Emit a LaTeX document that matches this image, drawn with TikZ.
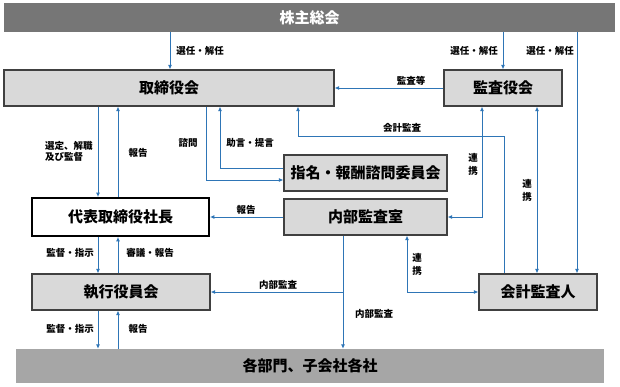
\documentclass[tikz,border=0pt]{standalone}
\usepackage{fontspec}
\setmainfont{Noto Sans CJK JP}
\usetikzlibrary{arrows.meta,calc}
\definecolor{arrowblue}{RGB}{46,117,182}
\definecolor{boxfill}{RGB}{217,217,217}
\definecolor{boxline}{RGB}{64,64,64}
\definecolor{topfill}{RGB}{118,118,118}
\definecolor{botfill}{RGB}{166,166,166}
\tikzset{
  graybox/.style={draw=boxline, line width=1.2pt, fill=boxfill, inner sep=0pt,
    font=\fontsize{15}{18}\selectfont\bfseries},
  whitebox/.style={draw=black, line width=1.8pt, fill=white, inner sep=0pt,
    font=\fontsize{15}{18}\selectfont\bfseries},
  bar/.style={inner sep=0pt, font=\fontsize{15}{18}\selectfont\bfseries},
  lab/.style={inner sep=0pt, font=\fontsize{9.5}{11}\selectfont\bfseries},
  vlab/.style={inner sep=0pt, align=center, font=\fontsize{9.5}{13}\selectfont\bfseries},
  arr/.style={draw=arrowblue, line width=0.9pt, -{Latex[length=4.5pt,width=4pt]}},
  arrb/.style={draw=arrowblue, line width=0.9pt, {Latex[length=4.5pt,width=4pt]}-{Latex[length=4.5pt,width=4pt]}},
}
\begin{document}
\begin{tikzpicture}[x=1pt,y=-1pt]
\useasboundingbox (0,0) rectangle (620,386);
% helper coordinates
\foreach \v in {98,118,170,206,220,298,343,407,482,503,504,537,577}{\coordinate (x\v) at (\v,0);}
\foreach \v in {136,168,180}{\coordinate (y\v) at (0,\v);}
% nodes
\node[bar, fill=topfill, text=white, minimum width=611pt, minimum height=29pt] (top) at (309.5,17.5) {株主総会};
\node[graybox, minimum width=330pt, minimum height=36pt] (tori) at (169,88) {取締役会};
\node[graybox, minimum width=118pt, minimum height=36pt] (kansa) at (503,88) {監査役会};
\node[graybox, minimum width=163pt, minimum height=36pt] (shimei) at (365.5,173) {指名・報酬諮問委員会};
\node[whitebox, minimum width=177pt, minimum height=38pt] (daihyo) at (120.5,217) {代表取締役社長};
\node[graybox, minimum width=163pt, minimum height=36pt] (naibu) at (365.5,217) {内部監査室};
\node[graybox, minimum width=178pt, minimum height=36pt] (shikko) at (121,292) {執行役員会};
\node[graybox, minimum width=118pt, minimum height=36pt] (kaikei) at (538,292) {会計監査人};
\node[bar, fill=botfill, minimum width=588pt, minimum height=34pt] (bottom) at (310,366) {各部門、子会社各社};
% connectors
\draw[arr] (top.south -| x170) -- (tori.north -| x170);
\draw[arr] (top.south -| x503) -- (kansa.north -| x503);
\draw[arr] (top.south -| x577) -- (kaikei.north -| x577);
\draw[arr] (kansa.west) -- (tori.east);
\draw[arr] (tori.south -| x98) -- (daihyo.north -| x98);
\draw[arr] (daihyo.north -| x118) -- (tori.south -| x118);
\draw[arr] (tori.south -| x206) |- (shimei.west |- y180);
\draw[arr] (shimei.west |- y168) -| (tori.south -| x220);
\draw[arr] (kaikei.north -| x504) |- (y136 -| x298) -- (tori.south -| x298);
\draw[arrb] (kansa.south -| x482) |- (naibu.east);
\draw[arrb] (kansa.south -| x537) -- (kaikei.north -| x537);
\draw[arr] (naibu.west) -- (daihyo.east);
\draw[arr] (daihyo.south -| x98) -- (shikko.north -| x98);
\draw[arr] (shikko.north -| x118) -- (daihyo.south -| x118);
\draw[arr] (naibu.south -| x343) -- (bottom.north -| x343);
\draw[arr] (shikko.east -| x343) -- (shikko.east);
\draw[arrb] (naibu.south -| x407) |- (kaikei.west);
\draw[arr] (shikko.south -| x98) -- (bottom.north -| x98);
\draw[arr] (bottom.north -| x118) -- (shikko.south -| x118);
% labels
\node[lab] (l1) at (200,51) {選任・解任};
\node[lab] (l2) at (474,51) {選任・解任};
\node[lab] (l3) at (550,51) {選任・解任};
\node[lab] (l4) at (411,81) {監査等};
\node[lab, anchor=west, align=left, font=\fontsize{9.5}{11.5}\selectfont\bfseries] (l5) at (45,151.5) {選定、解職\\及び監督};
\node[lab] (l6) at (138,153) {報告};
\node[lab] (l7) at (188,143) {諮問};
\node[lab] (l8) at (250,143) {助言・提言};
\node[lab] (l9) at (402,128) {会計監査};
\node[vlab] (l10) at (473,164) {連\\携};
\node[vlab] (l11) at (527,190) {連\\携};
\node[lab] (l12) at (246,210) {報告};
\node[lab] (l13) at (70,253) {監督・指示};
\node[lab] (l14) at (150,253) {審議・報告};
\node[lab] (l15) at (278,285) {内部監査};
\node[lab] (l16) at (374,314) {内部監査};
\node[vlab] (l17) at (417,264) {連\\携};
\node[lab] (l18) at (70,329) {監督・指示};
\node[lab] (l19) at (138,329) {報告};
\end{tikzpicture}
\end{document}
